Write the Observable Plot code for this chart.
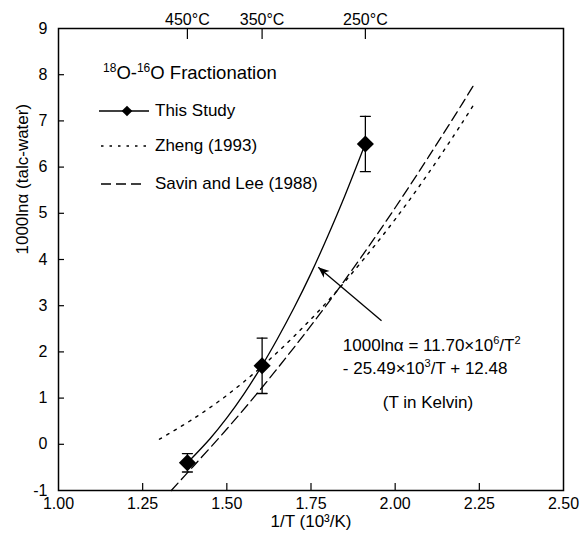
<!DOCTYPE html>
<html><head><meta charset="utf-8">
<script src="https://cdn.jsdelivr.net/npm/d3@7"></script>
<script src="https://cdn.jsdelivr.net/npm/@observablehq/plot@0.6"></script>
<style>body{margin:0;background:#fff;}</style>
</head><body><div id="chart"></div>
<script>
// ---- data ----
const studyX = [1.3829, 1.6048, 1.9115];
const studyY = [-0.40, 1.70, 6.50];
const studyErr = [0.20, 0.60, 0.60];
const fitX = [1.3829, 1.45, 1.50, 1.55, 1.6048, 1.65, 1.70, 1.75, 1.80, 1.85, 1.9115];
const fitY = [-0.40, 0.12, 0.57, 1.08, 1.71, 2.28, 2.96, 3.70, 4.51, 5.37, 6.51];
const zhengX = [1.30, 1.40, 1.50, 1.60, 1.70, 1.80, 1.90, 2.00, 2.10, 2.20, 2.235];
const zhengY = [0.11, 0.55, 1.06, 1.66, 2.34, 3.10, 3.95, 4.87, 5.88, 6.97, 7.37];
const savinX = [1.335, 1.40, 1.50, 1.60, 1.70, 1.80, 1.90, 2.00, 2.10, 2.20, 2.236];
const savinY = [-1.00, -0.48, 0.33, 1.19, 2.10, 3.05, 4.06, 5.12, 6.23, 7.38, 7.81];
const xTicks = [1.00, 1.25, 1.50, 1.75, 2.00, 2.25, 2.50];
const yTicks = [-1, 0, 1, 2, 3, 4, 5, 6, 7, 8, 9];
const tempTicksC = [450, 350, 250];
const legendLabels = ["This Study", "Zheng (1993)", "Savin and Lee (1988)"];
const arrowFrom = [1.961, 2.665];
const arrowTo = [1.773, 3.82];
const noteAt = [1.846, 2.14];
const xLabel = "1/T (10³/K)";
const yLabel = "1000lnα (talc-water)";

// ---- derived tables ----
const study = studyX.map((x, i) => ({x, y: studyY[i], e: studyErr[i]}));
const caps = study.flatMap(d => [{x: d.x, y: d.y + d.e}, {x: d.x, y: d.y - d.e}]);
const fit = fitX.map((x, i) => ({x, y: fitY[i]}));
const zheng = zhengX.map((x, i) => ({x, y: zhengY[i]}));
const savin = savinX.map((x, i) => ({x, y: savinY[i]}));
const tempTicksX = tempTicksC.map(c => 1000 / (c + 273.15));

const font = "'Liberation Sans', Arial, Helvetica, sans-serif";
const capShape = {draw(ctx, l) { ctx.moveTo(0, 0); ctx.lineTo(0, -l); }};

function rich(g, x, cy, parts, size) {
  const t = g.append("text").attr("x", x).attr("y", cy + 0.35 * size)
    .attr("font-size", size).attr("fill", "#000").attr("text-anchor", "start");
  let raised = false;
  for (const [s, sup] of parts) {
    const sp = t.append("tspan").text(s);
    if (sup) {
      sp.attr("font-size", size * 0.65).attr("dy", raised ? 0 : -0.42 * size);
      raised = true;
    } else {
      if (raised) sp.attr("dy", 0.42 * size);
      raised = false;
    }
  }
  return t;
}

function overlay(index, scales, values, dims) {
  const g = d3.create("svg:g").attr("font-family", font).attr("text-anchor", "start");
  const L = dims.marginLeft, T = dims.marginTop;
  // legend
  rich(g, L + 45, T + 45, [["18", 1], ["O-"], ["16", 1], ["O Fractionation"]], 18.5);
  const rowY = [82, 117, 155];
  const dashes = [null, "2.5,6", "10,5"];
  const x1s = [41, 43, 43], x2s = [91, 90, 85];
  legendLabels.forEach((lab, i) => {
    g.append("line").attr("x1", L + x1s[i]).attr("x2", L + x2s[i])
      .attr("y1", T + rowY[i] + 1).attr("y2", T + rowY[i] + 1)
      .attr("stroke", "#000").attr("stroke-width", 1.3)
      .attr("stroke-dasharray", dashes[i]);
    rich(g, L + 97, T + rowY[i], [[lab]], 17);
  });
  g.append("path").attr("d", d3.symbol(d3.symbolDiamond2, 72)())
    .attr("transform", `translate(${L + 69},${T + rowY[0] + 1})`).attr("fill", "#000");
  // arrow
  const ax1 = scales.x(arrowFrom[0]), ay1 = scales.y(arrowFrom[1]);
  const ax2 = scales.x(arrowTo[0]), ay2 = scales.y(arrowTo[1]);
  const ang = Math.atan2(ay2 - ay1, ax2 - ax1) * 180 / Math.PI;
  g.append("line").attr("x1", ax1).attr("y1", ay1).attr("x2", ax2).attr("y2", ay2)
    .attr("stroke", "#000").attr("stroke-width", 1.3);
  g.append("path").attr("d", "M0,0L-11,-4.5L-8,0L-11,4.5Z")
    .attr("transform", `translate(${ax2},${ay2}) rotate(${ang})`).attr("fill", "#000");
  // equation note
  const nx = scales.x(noteAt[0]), ny = scales.y(noteAt[1]);
  rich(g, nx, ny, [["1000lnα = 11.70×10"], ["6", 1], ["/T"], ["2", 1]], 17);
  rich(g, nx, ny + 23, [["- 25.49×10"], ["3", 1], ["/T + 12.48"]], 17);
  rich(g, nx + 40, ny + 57, [["(T in Kelvin)"]], 17);
  return g.node();
}

const chart = Plot.plot({
  width: 584, height: 539,
  marginLeft: 58, marginRight: 21, marginTop: 28, marginBottom: 49,
  style: {fontFamily: font, fontSize: "16px", color: "#000", background: "#fff"},
  x: {domain: [1, 2.5]},
  y: {domain: [-1, 9]},
  marks: [
    Plot.tickX(xTicks.slice(1, -1), {x: d => d, insetTop: 455, stroke: "#000", strokeWidth: 1.2}),
    Plot.tickY(yTicks.slice(1, -1), {y: d => d, insetRight: 499, stroke: "#000", strokeWidth: 1.2}),
    Plot.tickX(tempTicksX, {x: d => d, insetBottom: 451, stroke: "#000", strokeWidth: 1.2}),
    Plot.frame({stroke: "#000", strokeWidth: 1.5}),
    Plot.axisX({ticks: xTicks, tickFormat: d => d.toFixed(2), tickSize: 0, tickPadding: 7, label: null, fontSize: 16}),
    Plot.axisX({anchor: "top", ticks: tempTicksX, tickFormat: d => Math.round(1000 / d - 273.15) + "°C", tickSize: 0, tickPadding: 4, label: null, fontSize: 16}),
    Plot.axisY({ticks: yTicks, tickFormat: d => (d < 0 ? "-" + Math.abs(d) : String(d)), tickSize: 0, tickPadding: 11, label: null, fontSize: 16}),
    Plot.line(zheng, {x: "x", y: "y", stroke: "#000", strokeWidth: 1.4, strokeDasharray: "2.5,6", curve: "catmull-rom"}),
    Plot.line(savin, {x: "x", y: "y", stroke: "#000", strokeWidth: 1.3, strokeDasharray: "10,5", curve: "catmull-rom"}),
    Plot.line(fit, {x: "x", y: "y", stroke: "#000", strokeWidth: 1.3, curve: "catmull-rom"}),
    Plot.ruleX(study, {x: "x", y1: d => d.y - d.e, y2: d => d.y + d.e, stroke: "#000", strokeWidth: 1.3}),
    Plot.vector(caps, {x: "x", y: "y", length: 10, rotate: 90, anchor: "middle", shape: capShape, stroke: "#000", strokeWidth: 1.3}),
    Plot.dot(study, {x: "x", y: "y", symbol: "diamond2", r: 7.7, fill: "#000", stroke: "none"}),
    Plot.text([xLabel], {text: d => d, frameAnchor: "bottom", dy: 36, fontSize: 17, fill: "#000"}),
    Plot.text([yLabel], {text: d => d, frameAnchor: "left", dx: -36, dy: -5, rotate: -90, fontSize: 17, fill: "#000"}),
    overlay
  ]
});
document.getElementById("chart").append(chart);
</script>
</body></html>
